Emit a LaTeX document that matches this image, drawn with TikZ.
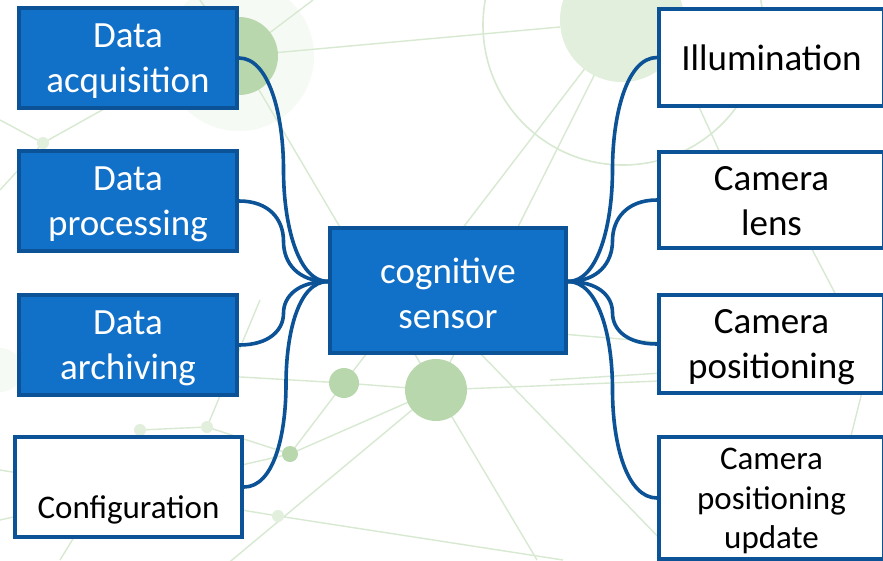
\documentclass[tikz,border=0pt]{standalone}
\usepackage{fontspec}
\setmainfont{Carlito}
\usetikzlibrary{calc}
\definecolor{boxblue}{RGB}{17,112,199}
\definecolor{edgeblue}{RGB}{12,82,150}
\definecolor{gline}{RGB}{216,233,209}
\definecolor{gdark}{RGB}{184,215,172}
\definecolor{glight}{RGB}{226,239,220}
\definecolor{ghalo}{RGB}{246,250,244}
\begin{document}
\begin{tikzpicture}[x=1pt,y=-1pt,
  bluebox/.style={draw=edgeblue, fill=boxblue, line width=4pt, inner sep=0pt},
  whitebox/.style={draw=edgeblue, fill=white, line width=4pt, inner sep=0pt},
  wtext/.style={align=center, text=white, font=\fontsize{37}{45}\selectfont, inner sep=0pt, yshift=-3pt},
  btext/.style={align=center, text=black, font=\fontsize{37}{45}\selectfont, inner sep=0pt, yshift=-3pt},
  smalltext/.style={align=center, text=black, font=\fontsize{33}{39.5}\selectfont, inner sep=0pt},
  conn/.style={draw=edgeblue, line width=3.6pt},
  bgline/.style={draw=gline, line width=1.4pt},
  bgdot/.style={fill=gdark},
  bgsoft/.style={fill=glight}]
\clip (0,0) rectangle (883,560);
\fill[white] (0,0) rectangle (883,560);
% ---------- background network ----------
\coordinate (P1) at (239,56);
\coordinate (P2) at (622,20);
\coordinate (P3) at (436,390);
\coordinate (P4) at (344,383);
\coordinate (P5) at (290,454);
\coordinate (P6) at (278,516);
\coordinate (P7) at (43,143);
\coordinate (P8) at (870,360);
\coordinate (P9) at (207,427);
\coordinate (P10) at (140,430);
\fill[ghalo] (P1) circle (75);
\draw[bgline] (P1) -- (560,27);
\draw[bgline] (P1) -- (P3);
\draw[bgline] (P1) -- (200,0);
\draw[bgline] (P1) -- (313,0);
\draw[bgline] (P2) -- (P4);
\draw[bgline] (P2) -- (P3);
\draw[bgline] (P4) -- (P3);
\draw[bgline] (P3) -- (883,372);
\draw[bgline] (P3) -- (537,560);
\draw[bgline] (P3) -- (P5);
\draw[bgline] (P5) -- (P4);
\draw[bgline] (P3) -- (220,570);
\draw[bgline] (P6) -- (563,560);
\draw[bgline] (P6) -- (0,470);
\draw[bgline] (477,350) -- (700,580);
\draw[bgline] (0,363) -- (P4);
\draw[bgline] (P5) -- (0,520);
\draw[bgline] (P7) -- (0,120);
\draw[bgline] (P7) -- (120,100);
\draw[bgline] (P7) -- (0,190);
\draw[bgline] (P9) -- (P10);
\draw[bgline] (P9) -- (P5);
\draw[bgline] (P10) -- (60,560);
\draw[bgline] (P9) -- (260,300);
\draw[bgline] (550,333) -- (P8);
\draw[bgline] (550,380) -- (P8);
\draw[bgline] (P8) -- (820,560);
\draw[bgline] (P8) -- (760,150);
\draw[bgline] (650,0) -- (760,240);
\draw[draw=gline, line width=1.6pt] (623,25) circle (140);
\fill[bgsoft] (P2) circle (62);
\fill[gdark] (P1) circle (39);
\fill[bgdot] (P3) circle (31);
\fill[bgdot] (P4) circle (15);
\fill[bgdot] (P5) circle (8);
\fill[glight] (P6) circle (6);
\fill[glight] (P7) circle (6);
\fill[glight] (P8) circle (13);
\fill[glight] (P9) circle (6);
\fill[glight] (P10) circle (6);
\fill[ghalo] (0,370) circle (22);
% ---------- nodes ----------
\node[bluebox, minimum width=218, minimum height=100, label={[wtext]center:Data\\acquisition}] (acq) at (128,58) {};
\node[bluebox, minimum width=218, minimum height=100, label={[wtext]center:Data\\processing}] (proc) at (128,201) {};
\node[bluebox, minimum width=218, minimum height=100, label={[wtext]center:Data\\archiving}] (arch) at (128,345) {};
\node[whitebox, minimum width=227, minimum height=100] (conf) at (128.5,487) {};
\node[smalltext] (conftext) at (128.5,510) {Configuration};
\node[bluebox, minimum width=236, minimum height=125, label={[wtext]center:cognitive\\sensor}] (cs) at (448,290.5) {};
\node[whitebox, minimum width=225, minimum height=97, label={[btext, yshift=3pt]center:Illumination}] (ill) at (771.5,57.5) {};
\node[whitebox, minimum width=225, minimum height=96, label={[btext, yshift=2pt]center:Camera\\lens}] (lens) at (771.5,200) {};
\node[whitebox, minimum width=225, minimum height=98, label={[btext]center:Camera\\positioning}] (pos) at (771.5,344) {};
\node[whitebox, minimum width=225, minimum height=122] (upd) at (771.5,498) {};
\node[smalltext] (updtext) at (771.5,501) {Camera\\positioning\\update};
\coordinate (cl) at ($(cs.west)+(0,-9)$);
\coordinate (cr) at ($(cs.east)+(0,-9)$);
% ---------- connectors ----------
\draw[conn] (acq.east) .. controls +(30,0) and +(0,-55) .. ($(acq.east)!.5!(cl)$) .. controls +(0,55) and +(-30,0) .. (cl);
\draw[conn] (proc.east) .. controls +(30,0) and +(0,-22) .. ($(proc.east)!.5!(cl)$) .. controls +(0,22) and +(-30,0) .. (cl);
\draw[conn] (arch.east) .. controls +(30,0) and +(0,17) .. ($(arch.east)!.5!(cl)$) .. controls +(0,-17) and +(-30,0) .. (cl);
\draw[conn] (conf.east) .. controls +(30,0) and +(0,50) .. ($(conf.east)!.5!(cl)$) .. controls +(0,-50) and +(-30,0) .. (cl);
\draw[conn] (ill.west) .. controls +(-30,0) and +(0,-55) .. ($(ill.west)!.5!(cr)$) .. controls +(0,55) and +(30,0) .. (cr);
\draw[conn] (lens.west) .. controls +(-30,0) and +(0,-22) .. ($(lens.west)!.5!(cr)$) .. controls +(0,22) and +(30,0) .. (cr);
\draw[conn] (pos.west) .. controls +(-30,0) and +(0,17) .. ($(pos.west)!.5!(cr)$) .. controls +(0,-17) and +(30,0) .. (cr);
\draw[conn] (upd.west) .. controls +(-30,0) and +(0,55) .. ($(upd.west)!.5!(cr)$) .. controls +(0,-55) and +(30,0) .. (cr);
\end{tikzpicture}
\end{document}
